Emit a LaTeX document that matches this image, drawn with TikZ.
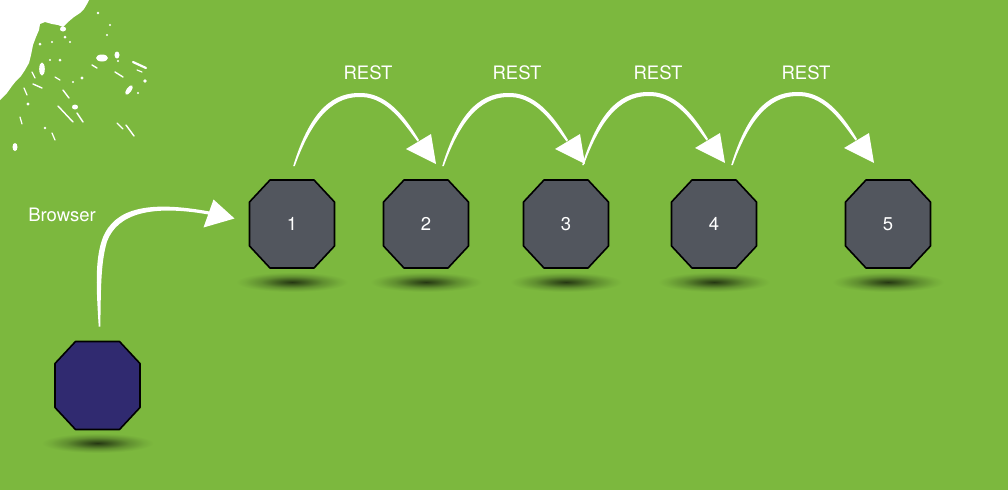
\documentclass[tikz,border=0pt]{standalone}
\usepackage{fontspec}
\setmainfont{TeX Gyre Heros}
\usetikzlibrary{calc}
\definecolor{bg}{RGB}{124,184,62}
\definecolor{octgray}{RGB}{82,86,94}
\definecolor{octblue}{RGB}{48,42,112}
\pgfdeclareradialshading{dropshadow}{\pgfpoint{0bp}{0bp}}{color(0bp)=(black!70!bg); color(6bp)=(black!50!bg); color(14bp)=(black!22!bg); color(21bp)=(black!6!bg); color(25bp)=(bg); color(50bp)=(bg)}
\tikzset{
  octo/.style={draw=black, line width=1.6pt, line join=round},
  lbl/.style={text=white, inner sep=0pt, font=\fontsize{18.5}{22}\selectfont},
  dropsh/.style={shading=dropshadow},
  chalk/.style={fill=white},
  speck/.style={draw=white, line cap=round},
  hop/.pic={
    \fill[chalk] (-0.8,0) .. controls (17,-58) and (40,-74) .. (68,-73)
        .. controls (96,-72) and (114,-44) .. (125,-26) -- (123.5,-24.5)
        .. controls (111,-41) and (94,-68) .. (68,-69)
        .. controls (42,-70) and (20,-53) .. (0.8,0) -- cycle;
    \fill[chalk] (112,-17) -- (137,-32) -- (142,-2) -- cycle;
  },
  bhop/.pic={
    \fill[chalk] (-0.8,0) .. controls (-3,-36) and (-5,-66) .. (3,-88)
        .. controls (15,-119) and (50,-126) .. (110,-115) -- (109,-112)
        .. controls (52,-122) and (18,-113) .. (7.5,-85)
        .. controls (1,-63) and (1.5,-36) .. (0.8,0) -- cycle;
    \fill[chalk] (104,-99) -- (114,-127) -- (135,-108) -- cycle;
  }
}
\begin{document}
\begin{tikzpicture}[x=1pt,y=-1pt]
\fill[bg] (0,0) rectangle (1008,490);
\useasboundingbox (0,0) rectangle (1008,490);
% splatter in the corner
\fill[white] (0,0) -- (89,0) -- (87,4) -- (84,9) -- (80,13) -- (74,17) -- (68,22) -- (63,27) -- (58,25) -- (52,24) -- (45,22) -- (40,24) -- (39,30) -- (36,37) -- (33,45) -- (31,55) -- (29,63) -- (25,70) -- (21,76) -- (16,81) -- (12,86) -- (7,93) -- (3,97) -- (0,100) -- cycle;
\foreach \px/\py/\ra/\rb in {102/58/6/3.5, 117/55/2.5/3.5, 145/81/1.8/1.8, 42/69/2.8/6.5, 63/29/3/2.5, 75/107/3/2.5, 15/147/2.5/4, 40/44/1.5/1.5, 52/42/1.2/1.2, 70/42/1.2/1.2, 98/13/1.3/1.3, 110/25/1.2/1.2, 107/35/1.2/1.2, 82/78/1.6/1.6, 73/82/1.2/1.2, 60/60/1.5/1.5, 50/60/1.2/1.2, 45/128/1.3/1.3, 28/104/1.6/1.6, 118/61/1.2/1.2, 138/93/1.2/1.2, 65/37/1.5/1.5}
  \fill[white] (\px,\py) circle[x radius=\ra, y radius=\rb];
\fill[white, rotate around={-35:(129,90)}] (129,90) circle[x radius=2.5, y radius=5.5];
\foreach \xa/\ya/\xb/\yb/\w in {133/62/146/68/2.2, 115/72/123/77/1.4, 92/65/97/68/1.4, 58/106/73/122/1.4, 77/113/83/122/1.4, 117/123/123/129/1.4, 126/125/134/136/1.4, 20/117/22/124/1.2, 52/133/55/140/1.2, 63/90/69/98/1.4, 33/84/42/88/1.4, 24/88/27/95/1.2, 55/77/60/80/1.2, 32/72/35/78/1.2, 137/70/142/72/1.2}
  \draw[speck, line width=\w pt] (\xa,\ya) -- (\xb,\yb);
% service nodes
\foreach \nm/\cx/\lab in {n1/292/1, n2/426/2, n3/566/3, n4/714/4, n5/888/5} {
  \shade[dropsh] (\cx,282) circle[x radius=56, y radius=10];
  \draw[octo, fill=octgray] (\cx-22,180) -- (\cx+22,180) -- (\cx+42.5,202) -- (\cx+42.5,246) -- (\cx+22,268) -- (\cx-22,268) -- (\cx-42.5,246) -- (\cx-42.5,202) -- cycle;
  \node[lbl] (\nm) at (\cx,224) {\lab};
}
% browser node
\shade[dropsh] (97.5,443) circle[x radius=56, y radius=10];
\draw[octo, fill=octblue] (75.5,341.5) -- (119.5,341.5) -- (140,363.5) -- (140,407.5) -- (119.5,429.5) -- (75.5,429.5) -- (55,407.5) -- (55,363.5) -- cycle;
\node[inner sep=0pt, minimum width=85pt, minimum height=88pt] (b) at (97.5,385.5) {};
% labels
\node[lbl] (lb) at (62,215) {Browser};
\node[lbl] (r1) at (368,73) {REST};
\node[lbl] (r2) at (517,73) {REST};
\node[lbl] (r3) at (658,73) {REST};
\node[lbl] (r4) at (806,73) {REST};
% connectors
\pic at ($(b)+(2,-59)$) {bhop};
\pic at ($(n1)+(2,-58)$) {hop};
\pic at ($(n2)+(17,-58)$) {hop};
\pic at ($(n3)+(17,-59)$) {hop};
\pic at ($(n4)+(18,-59)$) {hop};
\end{tikzpicture}
\end{document}
